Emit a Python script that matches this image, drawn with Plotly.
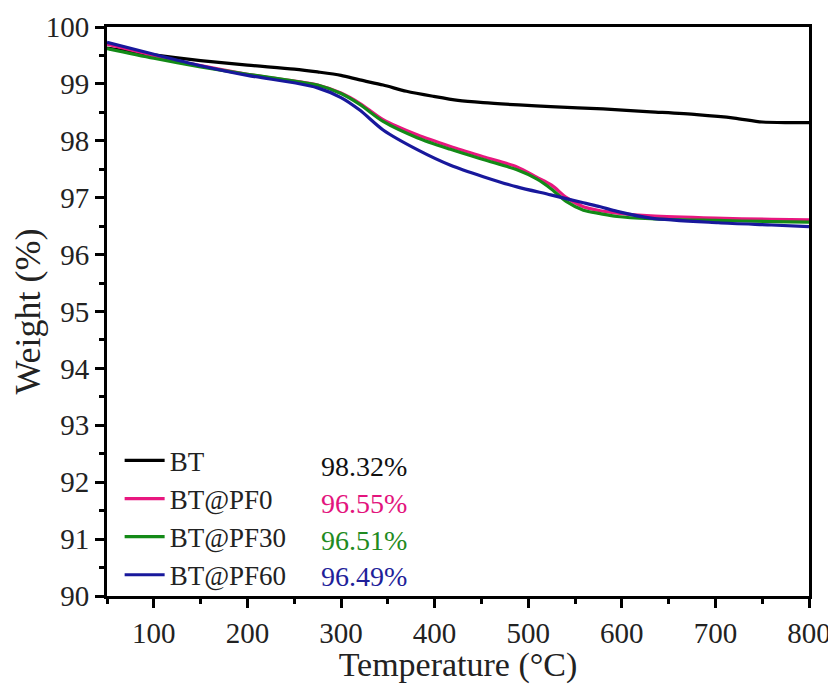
import plotly.graph_objects as go

temp_bt = [50, 100, 150, 200, 250, 275, 300, 320, 345, 370, 399, 425, 452, 490, 524, 580, 631, 680, 720, 750, 780, 800]
w_bt = [99.63, 99.51, 99.41, 99.33, 99.26, 99.21, 99.15, 99.07, 98.98, 98.87, 98.78, 98.71, 98.67, 98.63, 98.60, 98.56, 98.51, 98.46, 98.40, 98.33, 98.32, 98.32]

temp_pf0 = [50, 100, 150, 200, 250, 275, 300, 320, 345, 382, 417, 452, 488, 509, 525, 541, 559, 577, 595, 631, 700, 760, 800]
w_pf0 = [99.70, 99.50, 99.32, 99.17, 99.05, 98.98, 98.84, 98.66, 98.37, 98.10, 97.90, 97.72, 97.54, 97.36, 97.22, 97.00, 96.84, 96.77, 96.73, 96.68, 96.64, 96.62, 96.61]

temp_pf30 = [50, 100, 150, 200, 250, 275, 300, 320, 345, 382, 417, 452, 488, 509, 525, 541, 559, 577, 595, 631, 700, 760, 800]
w_pf30 = [99.62, 99.45, 99.30, 99.17, 99.05, 98.98, 98.83, 98.64, 98.34, 98.05, 97.85, 97.67, 97.49, 97.33, 97.15, 96.93, 96.78, 96.72, 96.67, 96.63, 96.60, 96.58, 96.57]

temp_pf60 = [50, 100, 150, 200, 250, 275, 300, 320, 345, 382, 417, 452, 488, 524, 559, 577, 595, 631, 703, 760, 800]
w_pf60 = [99.73, 99.52, 99.32, 99.15, 99.02, 98.93, 98.76, 98.54, 98.19, 97.84, 97.57, 97.37, 97.19, 97.05, 96.91, 96.84, 96.76, 96.64, 96.56, 96.52, 96.49]

names = ["BT", "BT@PF0", "BT@PF30", "BT@PF60"]
residues = ["98.32%", "96.55%", "96.51%", "96.49%"]
colors = ["#000000", "#e8177f", "#138a17", "#18189c"]
text_colors = ["#111111", "#e3147d", "#1f8b22", "#1f1f9a"]

x_ticks = [100, 200, 300, 400, 500, 600, 700, 800]
y_ticks = [90, 91, 92, 93, 94, 95, 96, 97, 98, 99, 100]

series = [(temp_bt, w_bt), (temp_pf0, w_pf0), (temp_pf30, w_pf30), (temp_pf60, w_pf60)]

fig = go.Figure()
for (x, y), n, c in zip(series, names, colors):
    fig.add_trace(go.Scatter(x=x, y=y, mode="lines", name=n,
                             line=dict(color=c, width=3.2, shape="spline", smoothing=0.8)))

font_family = "Liberation Serif"

row_y = [0.228, 0.163, 0.097, 0.034]
for r, tc, yy in zip(residues, text_colors, row_y):
    fig.add_annotation(x=0.302, y=yy, xref="paper", yref="paper", text=r,
                       showarrow=False, xanchor="left", yanchor="middle",
                       font=dict(family=font_family, size=28, color=tc))

axis_common = dict(showline=True, linewidth=3, linecolor="black", mirror=True,
                   ticks="outside", ticklen=9, tickwidth=3, tickcolor="black",
                   showgrid=False, zeroline=False, automargin=False,
                   tickfont=dict(family=font_family, size=29, color="#222"))

fig.update_xaxes(range=[50, 800], tickvals=x_ticks,
                 minor=dict(ticks="outside", ticklen=5, tickwidth=3, dtick=50, tick0=50, tickcolor="black"),
                 title=dict(text="Temperature (°C)", font=dict(family=font_family, size=34, color="#222"), standoff=9),
                 **axis_common)
fig.update_yaxes(range=[90, 100], tickvals=y_ticks,
                 minor=dict(ticks="outside", ticklen=5, tickwidth=3, dtick=0.5, tick0=90, tickcolor="black"),
                 title=dict(text="Weight (%)", font=dict(family=font_family, size=36, color="#222"), standoff=8),
                 **axis_common)

fig.update_layout(
    width=828, height=676,
    margin=dict(l=99, r=27, t=19, b=88),
    plot_bgcolor="white", paper_bgcolor="white",
    legend=dict(x=0.018, y=-0.006, xanchor="left", yanchor="bottom",
                bgcolor="rgba(0,0,0,0)", font=dict(family=font_family, size=27, color="#222"),
                tracegroupgap=0, itemwidth=40),
    showlegend=True,
)

fig.write_html("out.html")
